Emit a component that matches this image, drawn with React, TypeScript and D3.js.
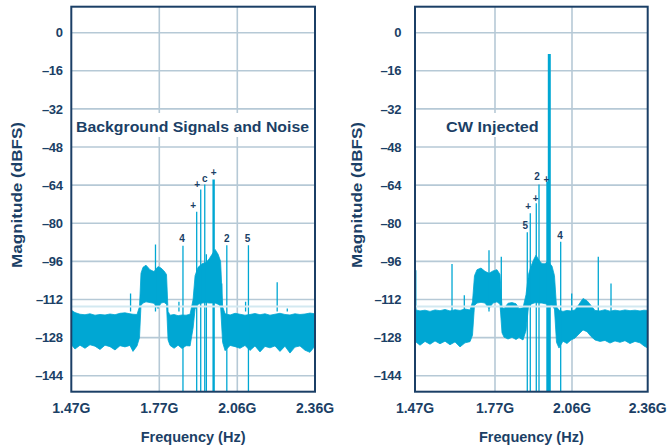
import React from "react";
import * as d3 from "d3";

// Axis ticks
const yTickValues = [0, -16, -32, -48, -64, -80, -96, -112, -128, -144];
const xTickValues = [1.47, 1.77, 2.06, 2.36];
const xTickLabels = ["1.47G", "1.77G", "2.06G", "2.36G"];

// ---- Background Signals and Noise: noise envelope (GHz, top dBFS, bottom dBFS)
const bgFreq = [
  1.47, 1.4826, 1.4997, 1.5167, 1.5337, 1.5508, 1.5678, 1.5849, 1.6019, 1.619, 1.636, 1.653, 1.6701, 1.6803, 1.694, 1.7025,
  1.7076, 1.7144, 1.7247, 1.7383, 1.7519, 1.7656, 1.7763, 1.7875, 1.7968, 1.8026,
  1.81, 1.8249, 1.8398, 1.8546, 1.8695, 1.8844, 1.8956,
  1.903, 1.9142, 1.929, 1.9439, 1.9551, 1.9663, 1.9774, 1.9886, 1.9979, 2.0054,
  2.0147, 2.0333, 2.0519, 2.0704, 2.0897, 2.109, 2.1283, 2.1476, 2.1669, 2.1862, 2.2055, 2.2248, 2.2441, 2.2634, 2.2827, 2.302, 2.3213, 2.3406, 2.36,
];
const bgTop = [
  -116.5, -117.5, -118.2, -118.4, -118.0, -118.6, -118.3, -118.5, -118.1, -118.4, -117.8, -117.6, -118.0, -118.2, -118.3, -115,
  -101, -98.5, -97.6, -99.5, -100.3, -98.2, -98.8, -100.0, -101.5, -117,
  -118.6, -118.3, -118.8, -118.5, -118.6, -118.2, -112,
  -102, -98.5, -97, -96.5, -95, -93, -91, -93, -96, -115,
  -118.0, -118.5, -117.8, -118.2, -118.6, -118.3, -117.9, -118.4, -118.0, -118.6, -118.2, -117.8, -118.3, -118.5, -118.0, -118.3, -118.1, -117.7, -118.0,
];
const bgBottom = [
  -131, -132.8, -131.2, -132.5, -131.0, -131.6, -133.0, -131.2, -131.8, -133.2, -131.4, -131.9, -131.3, -133.8, -131.5, -128,
  -114.5, -113.5, -113.0, -113.3, -113.6, -115.8, -113.5, -113.2, -114, -129,
  -131.3, -132.5, -131.2, -132.6, -131.4, -131.5, -124,
  -116, -114, -113.5, -113.3, -113.5, -113.5, -113.5, -114, -115, -130,
  -133.5, -131.3, -131.8, -132.5, -131.3, -133.4, -131.5, -134.0, -131.7, -132.3, -131.5, -133.8, -131.6, -134.5, -132.0, -131.5, -133.3, -134.2, -131.5,
];
// Discrete tones: frequency, peak level, and whether the bin drops to the bottom of the display
const bgSpurFreq = [1.672, 1.757, 1.843, 1.858, 1.909, 1.924, 1.939, 1.945, 1.972, 2.002, 2.021, 2.092, 2.103, 2.214, 2.253];
const bgSpurLevel = [-109.5, -88.9, -113, -89.4, -75.2, -65.8, -63.7, -93, -61.6, -105.3, -89.2, -113, -89.2, -104.8, -115.8];
const bgSpurDeep = [false, false, false, true, true, true, true, true, true, false, true, false, true, false, false];
// Tone markers: text, tone index, offset of the text from the tone peak
const bgMarkText = ["4", "+", "+", "c", "+", "2", "5"];
const bgMarkSpur = [3, 4, 5, 6, 8, 10, 12];
const bgMarkDx = [-1, -3.5, -3.5, 0, 0, 0, -1];
const bgMarkDy = [-4, -2.5, -1, -2.5, -3, -3, -3];

// ---- CW Injected: noise envelope
const cwFreq = [
  1.47, 1.4888, 1.5075, 1.5263, 1.545, 1.5638, 1.5825, 1.6013, 1.62, 1.6388, 1.6575, 1.6763, 1.6856,
  1.6931, 1.7025, 1.7175, 1.7325, 1.7475, 1.7625, 1.7775, 1.7888, 1.7964,
  1.8039, 1.819, 1.834, 1.8491, 1.8604, 1.8755, 1.8868,
  1.8962, 1.9057, 1.9169, 1.9244, 1.9357, 1.947, 1.9583, 1.9696, 1.9847, 1.994, 2.0016,
  2.011, 2.026, 2.0411, 2.0562, 2.0719, 2.0877, 2.1036, 2.1194, 2.1353, 2.1511, 2.171, 2.1908, 2.2106, 2.2304, 2.2502, 2.27, 2.2899, 2.3097, 2.3295, 2.3453, 2.36,
];
const cwTop = [
  -116.3, -116.8, -116.5, -117.0, -116.4, -116.7, -116.2, -116.8, -116.3, -116.6, -116.0, -116.4, -113,
  -102, -99.5, -98.8, -100.2, -101.0, -100.0, -99.5, -101.5, -115,
  -115.8, -113.6, -113.3, -113.8, -115.8, -115.5, -110,
  -101.5, -98, -95, -93.4, -95.5, -97, -97, -96, -98, -102, -115,
  -116.5, -117.0, -116.6, -116.8, -116.4, -114.0, -111.6, -112.5, -114.5, -116.6, -116.8, -116.3, -116.9, -116.5, -116.8, -116.4, -116.7, -116.5, -116.8, -116.5, -116.6,
];
const cwBottom = [
  -129.5, -131.2, -129.6, -130.8, -129.4, -130.6, -129.5, -131.0, -129.8, -131.9, -130.2, -129.7, -127,
  -114.5, -113.5, -113.2, -113.5, -115.8, -113.5, -113.0, -114, -126,
  -127.8, -128.6, -127.9, -128.8, -128.0, -129.0, -125,
  -115, -114, -113.5, -113.3, -113.5, -113.5, -113.8, -114, -114.5, -116, -130,
  -132.4, -129.5, -130.5, -129.0, -128.2, -126.5, -124.8, -125.5, -127.5, -129.0, -129.6, -129.2, -130.3, -129.4, -130.0, -129.3, -130.5, -129.6, -130.2, -131.5, -132.4,
];
const cwSpurFreq = [1.473, 1.6088, 1.6549, 1.7475, 1.7937, 1.8916, 1.9029, 1.9255, 1.9357, 1.9677, 1.9745, 2.0174, 2.0589, 2.1642, 2.2146];
const cwSpurLevel = [-99.7, -97.1, -110.2, -91.3, -94.1, -83.8, -75.8, -71.6, -63.7, -62.5, -8.9, -87.8, -109.5, -94.1, -105.3];
const cwSpurDeep = [false, false, false, false, false, true, true, true, true, true, true, true, false, false, false];
const cwMarkText = ["5", "+", "+", "2", "+", "4"];
const cwMarkSpur = [5, 6, 7, 8, 9, 11];
const cwMarkDx = [-2, -2, -0.7, -2, -1, -0.7];
const cwMarkDy = [-3.3, -3.7, -1, -4.7, 1, -3];

const NAVY = "#1b3f66";
const GRID = "#b6c9d6";
const TRACE = "#00a7d3";
const FONT = "'Liberation Sans', Arial, Helvetica, sans-serif";

const yScale = d3.scaleLinear().domain([-144, 0]).range([375.7, 32.7]);
const FRAME_TOP = 6.7;
const FRAME_BOTTOM = 391.7;

type PanelProps = {
  id: string;
  tickPx: number[];
  yLabelX: number;
  yTitleX: number;
  title: string;
  titleX: number;
  titleLen: number;
  freq: number[];
  top: number[];
  bottom: number[];
  spurFreq: number[];
  spurLevel: number[];
  spurDeep: boolean[];
  markText: string[];
  markSpur: number[];
  markDx: number[];
  markDy: number[];
};

function Panel(p: PanelProps) {
  const x = d3.scaleLinear().domain(xTickValues).range(p.tickPx);
  const left = p.tickPx[0];
  const right = p.tickPx[p.tickPx.length - 1];
  const pts = p.freq.map((f, i) => ({ f, t: p.top[i], b: p.bottom[i] }));
  const area = d3
    .area<{ f: number; t: number; b: number }>()
    .x((d) => x(d.f))
    .y0((d) => yScale(d.b))
    .y1((d) => yScale(d.t))
    .curve(d3.curveLinear);
  const titleY = 131.5;
  return (
    <g>
      <defs>
        <clipPath id={`clip-${p.id}`}>
          <rect x={left} y={FRAME_TOP} width={right - left} height={FRAME_BOTTOM - FRAME_TOP} />
        </clipPath>
      </defs>
      {/* grid */}
      {yTickValues.map((v) => (
        <line key={`h${v}`} x1={left} x2={right} y1={yScale(v)} y2={yScale(v)} stroke={GRID} strokeWidth={1.6} />
      ))}
      {xTickValues.slice(1, -1).map((v) => (
        <line key={`v${v}`} x1={x(v)} x2={x(v)} y1={FRAME_TOP} y2={FRAME_BOTTOM} stroke={GRID} strokeWidth={1.6} />
      ))}
      {/* title box */}
      <rect x={p.titleX - 2} y={113} width={p.titleLen + 4} height={24} fill="#fff" />
      <text
        x={p.titleX}
        y={titleY}
        fontFamily={FONT}
        fontWeight="bold"
        fontSize={15.5}
        fill={NAVY}
        textLength={p.titleLen}
        lengthAdjust="spacingAndGlyphs"
      >
        {p.title}
      </text>
      {/* trace */}
      <g clipPath={`url(#clip-${p.id})`}>
        <path d={area(pts) || ""} fill={TRACE} stroke={TRACE} strokeWidth={0.8} strokeLinejoin="miter" />
        {p.spurFreq.map((f, i) => {
          const lvl = p.spurLevel[i];
          const w = lvl > -20 ? 3 : lvl > -63 ? 2.4 : 1.3;
          return (
            <line
              key={`s${i}`}
              x1={x(f)}
              x2={x(f)}
              y1={yScale(lvl)}
              y2={p.spurDeep[i] ? FRAME_BOTTOM : yScale(-117)}
              stroke={TRACE}
              strokeWidth={w}
            />
          );
        })}
        <line x1={left} x2={right} y1={yScale(-115)} y2={yScale(-115)} stroke="#d3e9f1" strokeWidth={2} />
      </g>
      {/* tone markers */}
      {p.markText.map((t, i) => {
        const s = p.markSpur[i];
        return (
          <text
            key={`m${i}`}
            x={x(p.spurFreq[s]) + p.markDx[i]}
            y={yScale(p.spurLevel[s]) + p.markDy[i]}
            textAnchor="middle"
            fontFamily={FONT}
            fontWeight="bold"
            fontSize={10}
            fill={NAVY}
          >
            {t}
          </text>
        );
      })}
      {/* frame */}
      <rect x={left} y={FRAME_TOP} width={right - left} height={FRAME_BOTTOM - FRAME_TOP} fill="none" stroke={NAVY} strokeWidth={2} />
      {/* y ticks */}
      {yTickValues.map((v) => (
        <text
          key={`yl${v}`}
          x={p.yLabelX}
          y={yScale(v)}
          dy="0.36em"
          textAnchor="end"
          fontFamily={FONT}
          fontWeight="bold"
          fontSize={13}
          fill={NAVY}
          letterSpacing={-0.4}
        >
          {v === 0 ? "0" : `\u2013${Math.abs(v)}`}
        </text>
      ))}
      {/* x ticks */}
      {xTickValues.map((v, i) => (
        <text
          key={`xl${v}`}
          x={x(v)}
          y={413}
          textAnchor="middle"
          fontFamily={FONT}
          fontWeight="bold"
          fontSize={14}
          fill={NAVY}
        >
          {xTickLabels[i]}
        </text>
      ))}
      <text
        x={(left + right) / 2}
        y={442}
        textAnchor="middle"
        fontFamily={FONT}
        fontWeight="bold"
        fontSize={14.5}
        fill={NAVY}
      >
        Frequency (Hz)
      </text>
      <text
        transform={`translate(${p.yTitleX},195) rotate(-90)`}
        dy="0.35em"
        textAnchor="middle"
        fontFamily={FONT}
        fontWeight="bold"
        fontSize={15}
        fill={NAVY}
        textLength={146}
        lengthAdjust="spacingAndGlyphs"
      >
        Magnitude (dBFS)
      </text>
    </g>
  );
}

export default function App() {
  return (
    <svg
      width={669}
      height={445}
      viewBox="0 0 669 445"
      style={{ position: "absolute", left: 0, top: 0, background: "#fff" }}
    >
      <Panel
        id="bg"
        tickPx={[71.3, 159.3, 237.3, 315]}
        yLabelX={62.5}
        yTitleX={17}
        title="Background Signals and Noise"
        titleX={76}
        titleLen={233}
        freq={bgFreq}
        top={bgTop}
        bottom={bgBottom}
        spurFreq={bgSpurFreq}
        spurLevel={bgSpurLevel}
        spurDeep={bgSpurDeep}
        markText={bgMarkText}
        markSpur={bgMarkSpur}
        markDx={bgMarkDx}
        markDy={bgMarkDy}
      />
      <Panel
        id="cw"
        tickPx={[415, 495, 572, 647.7]}
        yLabelX={401}
        yTitleX={357}
        title="CW Injected"
        titleX={446}
        titleLen={92.7}
        freq={cwFreq}
        top={cwTop}
        bottom={cwBottom}
        spurFreq={cwSpurFreq}
        spurLevel={cwSpurLevel}
        spurDeep={cwSpurDeep}
        markText={cwMarkText}
        markSpur={cwMarkSpur}
        markDx={cwMarkDx}
        markDy={cwMarkDy}
      />
    </svg>
  );
}
